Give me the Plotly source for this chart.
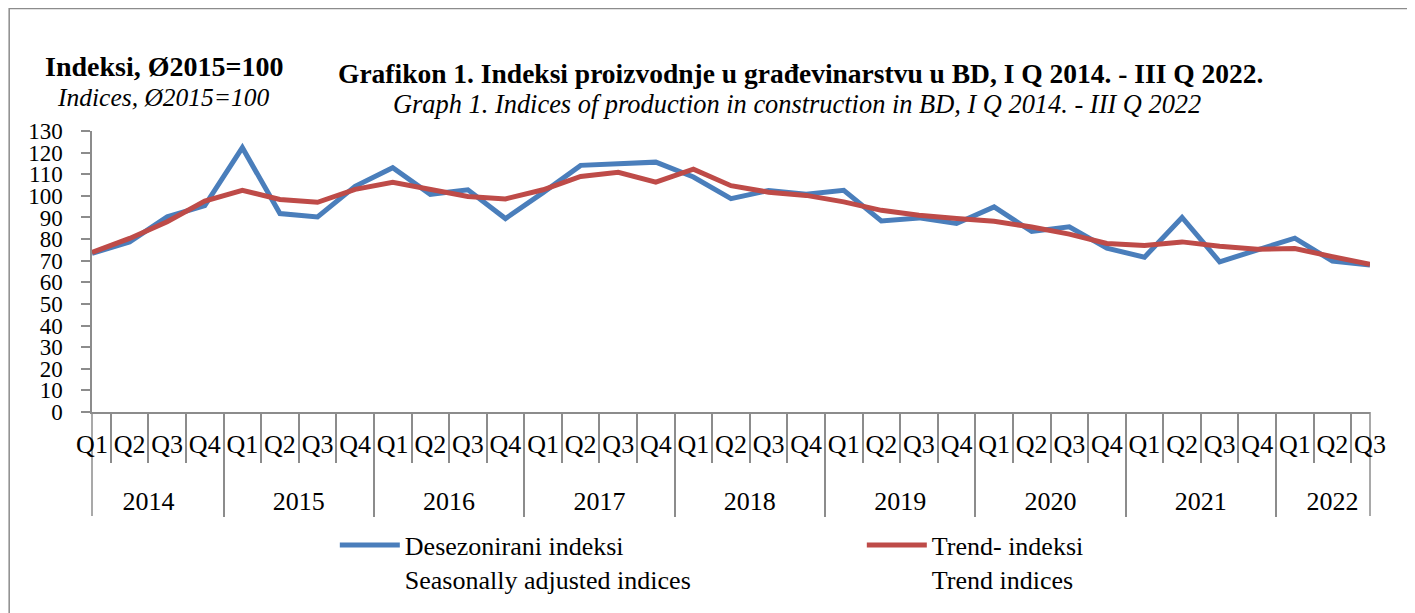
import plotly.graph_objects as go

years = ["2014"] * 4 + ["2015"] * 4 + ["2016"] * 4 + ["2017"] * 4 + ["2018"] * 4 + \
        ["2019"] * 4 + ["2020"] * 4 + ["2021"] * 4 + ["2022"] * 3
quarters = ["Q1", "Q2", "Q3", "Q4"] * 8 + ["Q1", "Q2", "Q3"]

seasonally_adjusted = [
    73.4, 78.7, 90.3, 95.5,
    122.3, 91.8, 90.2, 104.4,
    113.0, 100.7, 102.8, 89.5,
    101.5, 114.1, 114.9, 115.6,
    108.7, 98.7, 102.5, 100.8,
    102.6, 88.4, 89.8, 87.2,
    94.9, 83.5, 85.7, 75.8,
    71.6, 90.0, 69.5, 74.9,
    80.4, 69.8, 68.0,
]
trend = [
    73.8, 80.3, 88.0, 97.6,
    102.6, 98.3, 97.0, 103.0,
    106.3, 102.9, 99.7, 98.6,
    102.8, 109.0, 110.9, 106.3,
    112.3, 104.7, 101.7, 100.2,
    97.2, 93.3, 91.0, 89.5,
    88.2, 85.6, 82.3, 78.0,
    77.0, 78.7, 76.7, 75.3,
    75.6, 71.9, 68.3,
]

y_ticks = list(range(0, 131, 10))

FONT = "Liberation Serif"
GRAY = "#8c8c8c"

# year labels pushed one line down to sit in the lower band of the axis
year_labels = ["<br>" + y for y in years]

fig = go.Figure()
fig.add_trace(go.Scatter(
    x=[year_labels, quarters], y=seasonally_adjusted, mode="lines",
    name="Desezonirani indeksi<br>Seasonally adjusted indices",
    line=dict(color="#4a7ebb", width=5),
))
fig.add_trace(go.Scatter(
    x=[year_labels, quarters], y=trend, mode="lines",
    name="Trend- indeksi<br>Trend indices",
    line=dict(color="#be4b48", width=5),
))

edge_line = dict(color=GRAY, width=1.5)

fig.update_layout(
    width=1407, height=605,
    margin=dict(l=84, r=45, t=122.7, b=200.7, autoexpand=False),
    paper_bgcolor="white", plot_bgcolor="white",
    font=dict(family=FONT, color="black"),
    showlegend=True,
    legend=dict(
        orientation="h", x=0.19, xanchor="left", y=-0.39, yanchor="top",
        font=dict(family=FONT, size=26, color="black"),
        entrywidth=452, entrywidthmode="pixels", itemwidth=60,
        valign="top", bgcolor="rgba(0,0,0,0)",
    ),
    xaxis=dict(
        type="multicategory",
        showline=True, linecolor=GRAY, linewidth=1.5,
        ticks="outside", tickson="boundaries", ticklen=49, tickcolor=GRAY, tickwidth=1.5,
        showdividers=True, dividercolor=GRAY, dividerwidth=1.5,
        tickfont=dict(family=FONT, size=26, color="black"),
        ticklabelstandoff=8,
        tickangle=0, showgrid=False, zeroline=False,
    ),
    yaxis=dict(
        range=[0, 130], tickvals=y_ticks, ticktext=[str(v) for v in y_ticks],
        showline=True, linecolor=GRAY, linewidth=1.5,
        ticks="outside", ticklen=9, tickcolor=GRAY, tickwidth=1.5,
        tickfont=dict(family=FONT, size=23, color="black"),
        ticklabelstandoff=14,
        showgrid=False, zeroline=False,
    ),
    shapes=[
        dict(type="rect", xref="paper", yref="paper",
             x0=-0.0648, x1=1.2, y0=-1.2, y1=1.4357,
             line=edge_line, fillcolor="rgba(0,0,0,0)", layer="below"),
        dict(type="line", xref="paper", yref="paper", x0=0, x1=0, y0=0, y1=-0.37,
             line=edge_line, layer="below"),
        dict(type="line", xref="paper", yref="paper", x0=1, x1=1, y0=0, y1=-0.37,
             line=edge_line, layer="below"),
    ],
    annotations=[
        dict(text="<b>Grafikon 1. Indeksi proizvodnje u građevinarstvu u BD, I Q 2014. - III Q 2022.</b>",
             xref="paper", yref="paper", x=0.554, y=1.205, xanchor="center", yanchor="middle",
             showarrow=False, font=dict(family=FONT, size=27.5, color="black")),
        dict(text="<i>Graph 1. Indices of production in construction in BD, I Q 2014. - III Q 2022</i>",
             xref="paper", yref="paper", x=0.5517, y=1.095, xanchor="center", yanchor="middle",
             showarrow=False, font=dict(family=FONT, size=26.4, color="black")),
        dict(text="<b>Indeksi, Ø2015=100</b>",
             xref="paper", yref="paper", x=0.0563, y=1.2298, xanchor="center", yanchor="middle",
             showarrow=False, font=dict(family=FONT, size=28, color="black")),
        dict(text="<i>Indices, Ø2015=100</i>",
             xref="paper", yref="paper", x=0.0556, y=1.1197, xanchor="center", yanchor="middle",
             showarrow=False, font=dict(family=FONT, size=25.5, color="black")),
    ],
)

fig.write_html("out.html")
